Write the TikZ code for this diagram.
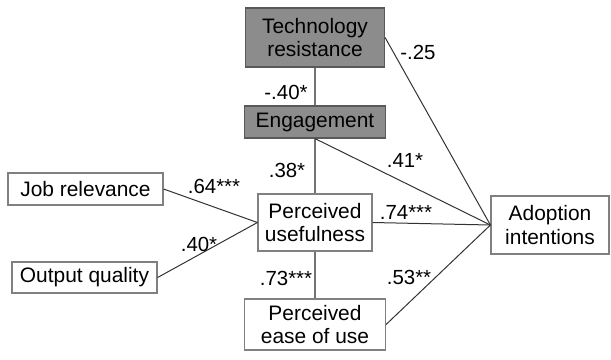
\documentclass[tikz,border=0pt]{standalone}
\usepackage{fontspec}
\setmainfont{Liberation Sans}
\usepackage{tikz}

\begin{document}
\begin{tikzpicture}[
        x=1bp, y=-1bp,
        factor/.style={rectangle, draw=black!50, line width=1.2bp, fill=white, align=center, inner sep=0pt, font=\fontsize{21}{24}\selectfont},
        shaded/.style={factor, fill=black!45, draw=black!65},
        coef/.style={inner sep=0pt, font=\fontsize{20.5}{24}\selectfont},
        stem/.style={draw=black!55, line width=1.6bp},
        link/.style={draw=black!80, line width=1bp}
    ]
    \useasboundingbox (0,0) rectangle (611,359);

    % constructs
    \node[shaded, minimum width=139bp, minimum height=59bp] (resist) at (315,37.5) {Technology\\resistance};
    \node[shaded, minimum width=141bp, minimum height=32bp] (engage) at (315,122) {Engagement};
    \node[factor, minimum width=155bp, minimum height=32bp] (jobrel) at (85.5,189) {Job relevance};
    \node[factor, minimum width=145bp, minimum height=31bp] (output) at (84.5,277.5) {Output quality};
    \node[factor, minimum width=114bp, minimum height=57bp] (useful) at (315,222.5) {Perceived\\usefulness};
    \node[factor, minimum width=141bp, minimum height=51bp] (ease) at (315,324.5) {Perceived\\ease of use};
    \node[factor, minimum width=118bp, minimum height=58bp] (adopt) at (550,225) {Adoption\\intentions};

    % paths
    \draw[stem] (resist) -- (engage);
    \draw[stem] (engage) -- (useful);
    \draw[stem] (useful) -- (ease);
    \draw[link] (resist.east) -- (adopt.west);
    \draw[link] (engage.south) -- (adopt.west);
    \draw[link] (jobrel.east) -- (useful.west);
    \draw[link] (output.east) -- (useful.west);
    \draw[link] (useful.east) -- (adopt.west);
    \draw[link] (ease.east) -- (adopt.west);

    % coefficients
    \node[coef] (c_resist_engage) at (286,92) {-.40*};
    \node[coef] (c_resist_adopt) at (418,52) {-.25};
    \node[coef] (c_engage_useful) at (287,170) {.38*};
    \node[coef] (c_engage_adopt) at (405,160) {.41*};
    \node[coef] (c_jobrel) at (214,186) {.64***};
    \node[coef] (c_output) at (199,244) {.40*};
    \node[coef] (c_useful_adopt) at (406,212) {.74***};
    \node[coef] (c_useful_ease) at (286,278) {.73***};
    \node[coef] (c_ease_adopt) at (409,277) {.53**};
\end{tikzpicture}
\end{document}
